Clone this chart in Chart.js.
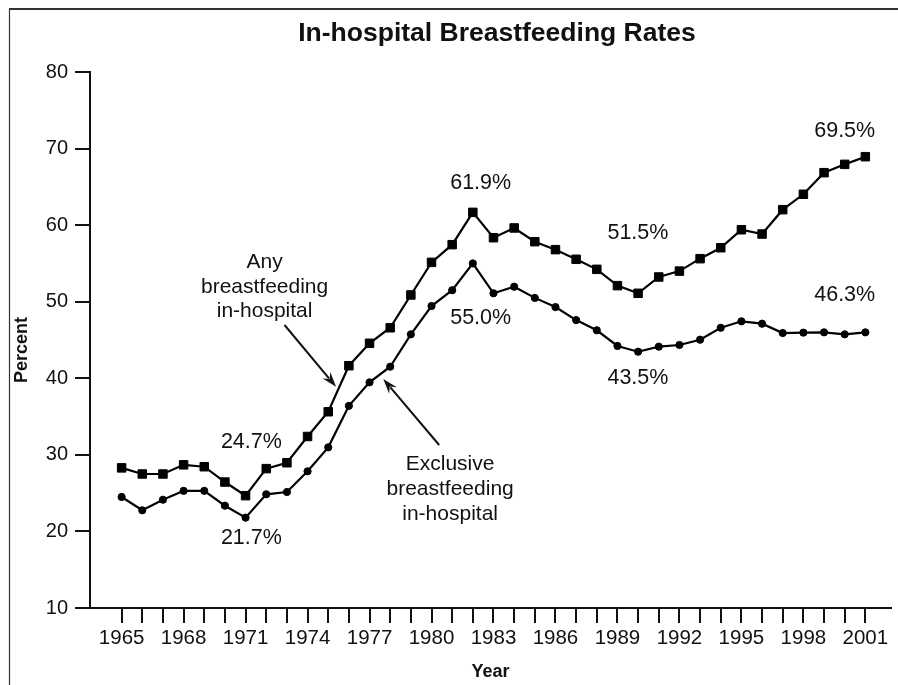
<!DOCTYPE html>
<html>
<head>
<meta charset="utf-8">
<script src="https://cdn.jsdelivr.net/npm/chart.js@4.4.1/dist/chart.umd.min.js"></script>
<style>
  html, body { margin: 0; padding: 0; background: #fff; }
  #wrap { width: 898px; height: 685px; }
</style>
</head>
<body>
<div id="wrap"><canvas id="c" width="898" height="685"></canvas></div>
<script>
// ---- data ----
const years = [1965,1966,1967,1968,1969,1970,1971,1972,1973,1974,1975,1976,1977,1978,1979,1980,1981,1982,1983,1984,1985,1986,1987,1988,1989,1990,1991,1992,1993,1994,1995,1996,1997,1998,1999,2000,2001];
const tickLabelYears = [1965,1968,1971,1974,1977,1980,1983,1986,1989,1992,1995,1998,2001];
const yTicks = [10,20,30,40,50,60,70,80];
const anyRates = [28.3,27.5,27.5,28.7,28.45,26.45,24.67,28.2,28.97,32.4,35.63,41.64,44.57,46.6,50.88,55.14,57.45,61.67,58.36,59.63,57.84,56.8,55.54,54.23,52.1,51.1,53.23,54.0,55.62,57.05,59.4,58.84,62.02,64.03,66.85,67.94,68.94];
const exclusiveRates = [24.5,22.76,24.14,25.3,25.3,23.36,21.8,24.85,25.15,27.85,30.98,36.4,39.47,41.51,45.74,49.44,51.5,55.0,51.1,51.96,50.5,49.3,47.6,46.27,44.22,43.47,44.13,44.35,45.04,46.6,47.44,47.13,45.91,45.96,46.0,45.74,46.0];
const seriesNames = ['Any breastfeeding in-hospital', 'Exclusive breastfeeding in-hospital'];
const valueLabels = ['24.7%','21.7%','61.9%','55.0%','51.5%','43.5%','69.5%','46.3%'];
const anyNoteLines = ['Any','breastfeeding','in-hospital'];
const exclusiveNoteLines = ['Exclusive','breastfeeding','in-hospital'];
const chartTitle = 'In-hospital Breastfeeding Rates';
const xTitle = 'Year';
const yTitle = 'Percent';

// ---- placement of annotations (in data coordinates) ----
const valueLabelPos = [[1971.28,31.7],[1971.28,19.1],[1982.38,65.54],[1982.38,47.83],[1989.99,58.94],[1989.99,40.0],[2000.0,72.3],[2000.0,50.88]];
const anyNotePos = [1971.92, 55.1];
const exclusiveNotePos = [1980.9, 28.8];
const anyArrow = [[1972.884,46.96],[1975.38,38.9]];
const exclusiveArrow = [[1980.37,31.29],[1977.665,39.91]];

const FAMILY = '"Liberation Sans", Arial, Helvetica, sans-serif';
const INK = '#111';

function arrow(ctx, x1, y1, x2, y2) {
  const ang = Math.atan2(y2 - y1, x2 - x1);
  const len = 15, half = 5;
  const c = Math.cos(ang), s = Math.sin(ang);
  const bx = x2 - len * c, by = y2 - len * s;
  ctx.beginPath();
  ctx.moveTo(x1, y1);
  ctx.lineTo(bx + 4 * c, by + 4 * s);
  ctx.stroke();
  ctx.beginPath();
  ctx.moveTo(x2, y2);
  ctx.lineTo(bx + half * s, by - half * c);
  ctx.lineTo(bx + 5 * c, by + 5 * s);
  ctx.lineTo(bx - half * s, by + half * c);
  ctx.closePath();
  ctx.fill();
}

const decor = {
  id: 'decor',
  beforeDraw(chart) {
    const ctx = chart.ctx;
    ctx.save();
    ctx.fillStyle = '#fff';
    ctx.fillRect(0, 0, chart.width, chart.height);
    ctx.restore();
  },
  afterDraw(chart) {
    const ctx = chart.ctx;
    const xs = chart.scales.x, ys = chart.scales.y;
    const px = v => xs.getPixelForValue(v), py = v => ys.getPixelForValue(v);
    ctx.save();
    // frame
    ctx.strokeStyle = '#333';
    ctx.lineWidth = 2;
    ctx.beginPath(); ctx.moveTo(9, 9); ctx.lineTo(chart.width, 9); ctx.stroke();
    ctx.lineWidth = 1.2;
    ctx.beginPath(); ctx.moveTo(9.5, 9); ctx.lineTo(9.5, chart.height); ctx.stroke();

    ctx.fillStyle = INK;
    ctx.strokeStyle = INK;
    // title
    ctx.font = 'bold 26.5px ' + FAMILY;
    ctx.textAlign = 'center';
    ctx.textBaseline = 'alphabetic';
    ctx.fillText(chartTitle, 497, 41);

    // y title
    ctx.save();
    ctx.translate(22, 350);
    ctx.rotate(-Math.PI / 2);
    ctx.font = 'bold 18px ' + FAMILY;
    ctx.textBaseline = 'middle';
    ctx.fillText(yTitle, 0, 0);
    ctx.restore();

    // value labels
    ctx.font = '21.5px ' + FAMILY;
    ctx.textBaseline = 'middle';
    valueLabels.forEach((t, i) => {
      ctx.fillText(t, px(valueLabelPos[i][0]), py(valueLabelPos[i][1]));
    });

    // series notes
    ctx.font = '21px ' + FAMILY;
    anyNoteLines.forEach((t, i) => {
      ctx.fillText(t, px(anyNotePos[0]), py(anyNotePos[1]) + i * 24.5);
    });
    exclusiveNoteLines.forEach((t, i) => {
      ctx.fillText(t, px(exclusiveNotePos[0]), py(exclusiveNotePos[1]) + i * 25);
    });

    // arrows
    ctx.lineWidth = 2;
    arrow(ctx, px(anyArrow[0][0]), py(anyArrow[0][1]), px(anyArrow[1][0]), py(anyArrow[1][1]));
    arrow(ctx, px(exclusiveArrow[0][0]), py(exclusiveArrow[0][1]), px(exclusiveArrow[1][0]), py(exclusiveArrow[1][1]));
    ctx.restore();
  }
};

const toPoints = vals => years.map((yr, i) => ({ x: yr, y: vals[i] }));

new Chart(document.getElementById('c'), {
  type: 'line',
  data: {
    datasets: [
      {
        label: seriesNames[0],
        data: toPoints(anyRates),
        borderColor: '#000',
        backgroundColor: '#000',
        borderWidth: 2.2,
        pointStyle: 'rect',
        pointRadius: 6,
        pointBorderWidth: 1,
        tension: 0
      },
      {
        label: seriesNames[1],
        data: toPoints(exclusiveRates),
        borderColor: '#000',
        backgroundColor: '#000',
        borderWidth: 2.2,
        pointStyle: 'circle',
        pointRadius: 3.6,
        pointBorderWidth: 1,
        tension: 0
      }
    ]
  },
  options: {
    responsive: false,
    devicePixelRatio: 1,
    animation: false,
    layout: { padding: { top: 72, right: 5, bottom: 0, left: 0 } },
    plugins: {
      legend: { display: false },
      tooltip: { enabled: false },
      title: { display: false }
    },
    scales: {
      x: {
        type: 'linear',
        min: 1963.469,
        max: 2002.241,
        afterBuildTicks: s => { s.ticks = years.map(v => ({ value: v })); },
        afterFit: s => { s.height = 77; },
        ticks: {
          autoSkip: false,
          maxRotation: 0,
          minRotation: 0,
          padding: 3,
          color: INK,
          font: { size: 20.5, family: FAMILY },
          callback: v => tickLabelYears.includes(v) ? String(v) : ''
        },
        grid: { drawOnChartArea: false, drawTicks: true, tickLength: 15, color: INK, lineWidth: 2 },
        border: { display: true, color: INK, width: 2 },
        title: { display: true, text: xTitle, color: INK, font: { size: 18, weight: 'bold', family: FAMILY }, padding: { top: 0, bottom: 2 } }
      },
      y: {
        type: 'linear',
        min: 10,
        max: 80,
        afterBuildTicks: s => { s.ticks = yTicks.map(v => ({ value: v })); },
        afterFit: s => { s.width = 90; },
        ticks: { padding: 7, color: INK, font: { size: 20, family: FAMILY } },
        grid: { drawOnChartArea: false, drawTicks: true, tickLength: 15, color: INK, lineWidth: 2 },
        border: { display: true, color: INK, width: 2 },
        title: { display: false }
      }
    }
  },
  plugins: [decor]
});
</script>
</body>
</html>
